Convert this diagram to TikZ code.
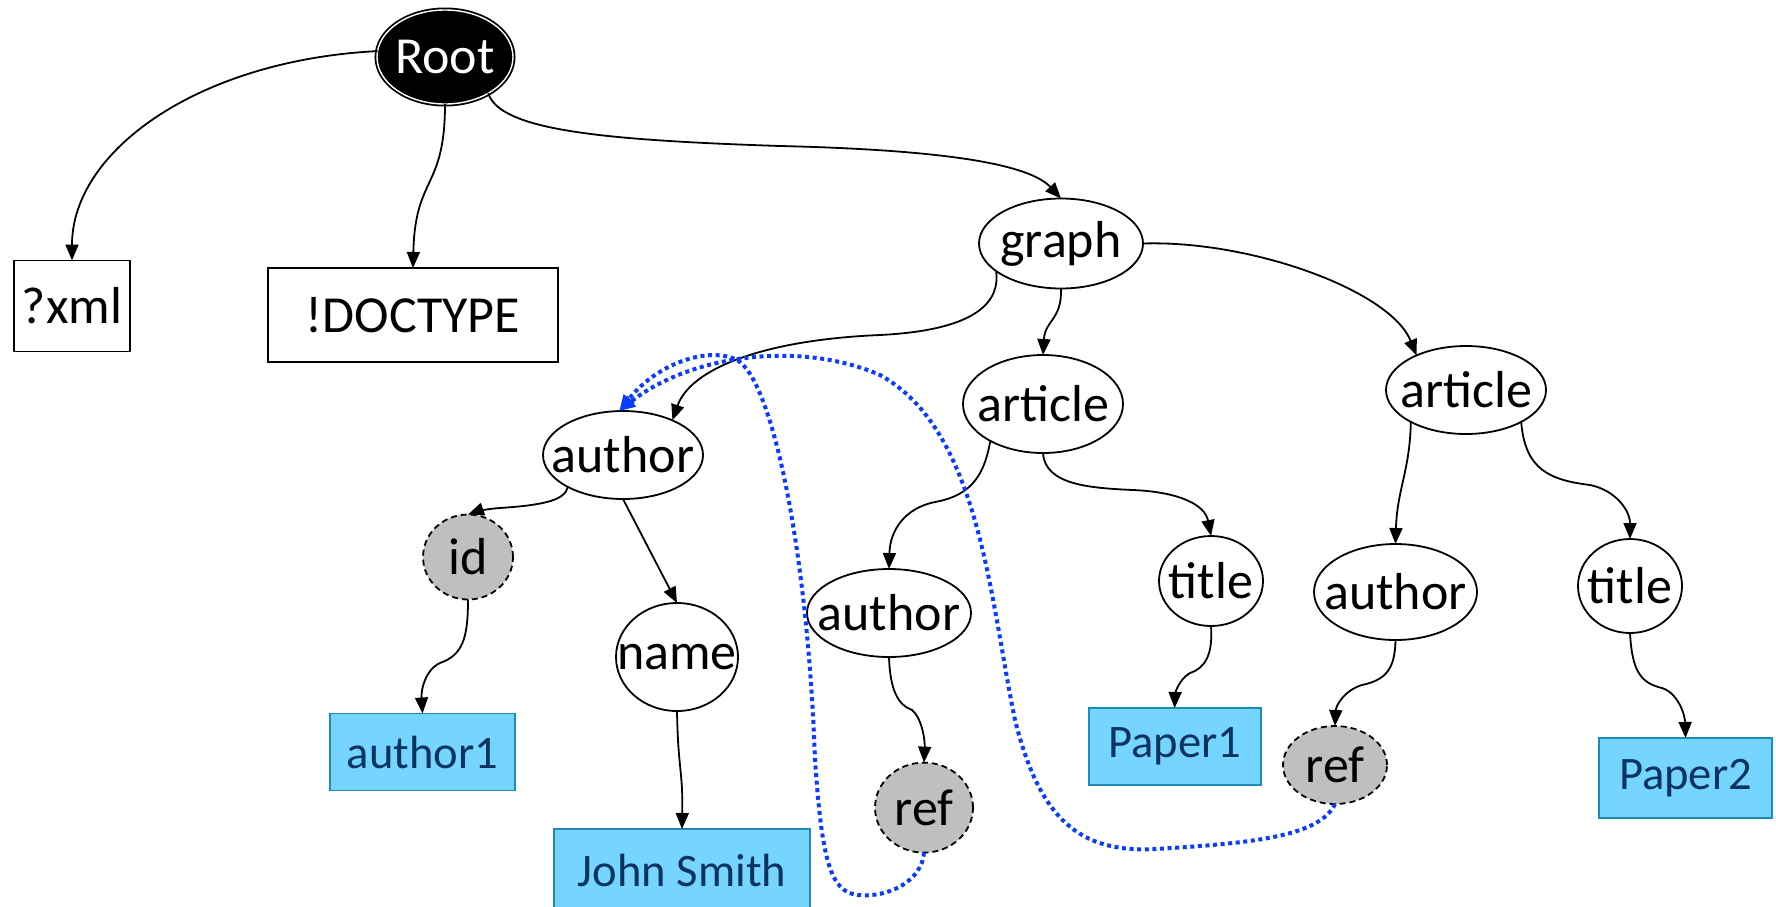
\documentclass[tikz,border=0pt]{standalone}
\usepackage{fontspec}
\setmainfont{Carlito}
\usetikzlibrary{shapes.geometric,arrows.meta}
\definecolor{boxfill}{RGB}{117,213,255}
\definecolor{boxline}{RGB}{30,140,180}
\definecolor{boxtext}{RGB}{12,52,97}
\definecolor{attrfill}{RGB}{191,191,191}
\definecolor{refblue}{RGB}{10,60,255}
\newcommand\zt[1]{\makebox[0pt]{#1}}
\begin{document}
\begin{tikzpicture}[x=0.5pt,y=-0.5pt,
 elem/.style={ellipse, draw=black, line width=0.9pt, fill=white, inner sep=0pt, outer sep=0pt, font=\fontsize{26}{30}\selectfont},
 attr/.style={elem, fill=attrfill, dash pattern=on 3pt off 2pt},
 tagbox/.style={rectangle, draw=black, line width=0.9pt, fill=white, inner sep=0pt, outer sep=0pt, font=\fontsize{26}{30}\selectfont},
 valbox/.style={rectangle, draw=boxline, line width=0.9pt, fill=boxfill, inner sep=0pt, outer sep=0pt, text=boxtext, font=\fontsize{23.3}{28}\selectfont},
 link/.style={line width=0.9pt, -{Triangle[length=8pt,width=6.5pt]}},
 refline/.style={refblue, line width=2pt, dash pattern=on 2pt off 1.8pt, -{Triangle[length=8pt,width=6.5pt]}}
]
\useasboundingbox (0,0) rectangle (1776,906);
\clip (0,0) rectangle (1776,906);

% nodes
\node[elem, fill=black, text=white, double=white, double distance=0.7pt, minimum width=68pt, minimum height=47pt] (root) at (445,57) {\zt{Root}};
\node[tagbox, minimum width=58pt, minimum height=45.5pt] (xml) at (72,306) {?xml};
\node[tagbox, minimum width=145pt, minimum height=47pt] (doctype) at (413,315) {!DOCTYPE};
\node[elem, minimum width=82pt, minimum height=45pt] (graph) at (1061,243.5) {\zt{graph}};
\node[elem, minimum width=80pt, minimum height=49pt] (art1) at (1043,404) {\zt{article}};
\node[elem, minimum width=80pt, minimum height=44pt] (art2) at (1466,390) {\zt{article}};
\node[elem, minimum width=80pt, minimum height=44pt] (auth0) at (623,455) {\zt{author}};
\node[attr, minimum width=45pt, minimum height=42.5pt] (id) at (468,557) {\zt{id}};
\node[elem, minimum width=61pt, minimum height=54pt] (name) at (677,657) {\zt{name}};
\node[valbox, minimum width=92.5pt, minimum height=38.5pt] (author1) at (422.5,752) {author1};
\node[valbox, minimum width=128pt, minimum height=41pt] (john) at (682,870) {John Smith};
\node[elem, minimum width=82pt, minimum height=44pt] (auth1) at (889,613) {\zt{author}};
\node[attr, minimum width=49pt, minimum height=45pt] (ref1) at (924,807.6) {\zt{ref}};
\node[elem, minimum width=52pt, minimum height=45pt] (title1) at (1211,581) {\zt{title}};
\node[valbox, minimum width=86pt, minimum height=38.5pt] (paper1) at (1174.6,746.5) {Paper1};
\node[elem, minimum width=81.5pt, minimum height=48pt] (auth2) at (1395.5,592) {\zt{author}};
\node[attr, minimum width=52pt, minimum height=39pt] (ref2) at (1335,765) {\zt{ref}};
\node[elem, minimum width=52pt, minimum height=47pt] (title2) at (1630,586) {\zt{title}};
\node[valbox, minimum width=86.5pt, minimum height=40pt] (paper2) at (1685.5,778) {Paper2};

% tree edges
\draw[link] (root.175) .. controls (200,60) and (72,150) .. (xml.north);
\draw[link] (root.south) .. controls (445,190) and (415,175) .. (doctype.north);
\draw[link] (root.-40) .. controls (500,130) and (600,140) .. (780,146) .. controls (950,150) and (1030,165) .. (graph.north);
\draw[link] (graph.-157) .. controls (1000,300) and (980,330) .. (880,335) .. controls (760,340) and (690,370) .. (auth0.35);
\draw[link] (graph.south) .. controls (1062,320) and (1045,320) .. (art1.north);
\draw[link] (graph.east) .. controls (1250,240) and (1390,290) .. (art2.145);
\draw[link] (art1.-145) .. controls (985,470) and (975,495) .. (935,502) .. controls (905,508) and (890,530) .. (auth1.north);
\draw[link] (art1.south) .. controls (1045,485) and (1090,488) .. (1133,490) .. controls (1180,492) and (1205,505) .. (title1.north);
\draw[link] (art2.-150) .. controls (1410,470) and (1397,490) .. (auth2.north);
\draw[link] (art2.-30) .. controls (1525,470) and (1550,480) .. (1590,485) .. controls (1615,490) and (1630,510) .. (title2.north);
\draw[link] (auth0.-150) .. controls (565,500) and (545,505) .. (500,508) .. controls (485,509) and (475,512) .. (id.north);
\draw[link] (auth0.south) -- (name.north);
\draw[link] (id.south) .. controls (468,640) and (462,655) .. (440,663) .. controls (425,670) and (421,690) .. (author1.north);
\draw[link] (name.south) .. controls (678,770) and (683,770) .. (john.north);
\draw[link] (auth1.south) .. controls (890,690) and (898,705) .. (912,710) .. controls (922,718) and (925,740) .. (ref1.north);
\draw[link] (title1.south) .. controls (1213,655) and (1205,668) .. (1190,673) .. controls (1178,680) and (1175,695) .. (paper1.north);
\draw[link] (auth2.south) .. controls (1395,670) and (1385,680) .. (1362,685) .. controls (1345,690) and (1336,705) .. (ref2.north);
\draw[link] (title2.south) .. controls (1632,670) and (1640,683) .. (1662,688) .. controls (1678,693) and (1685,715) .. (paper2.north);

% reference links
\draw[refline] (ref1.south) .. controls (922,880) and (890,898) .. (858,895) .. controls (830,892) and (822,860) .. (815,760) .. controls (808,560) and (775,390) .. (740,362) .. controls (715,345) and (660,360) .. (auth0.95);
\draw[refline] (ref2.south) .. controls (1320,835) and (1260,843) .. (1155,849) .. controls (1080,853) and (1040,820) .. (1015,720) .. controls (990,600) and (980,430) .. (880,375) .. controls (800,340) and (690,355) .. (auth0.95);
\end{tikzpicture}
\end{document}
